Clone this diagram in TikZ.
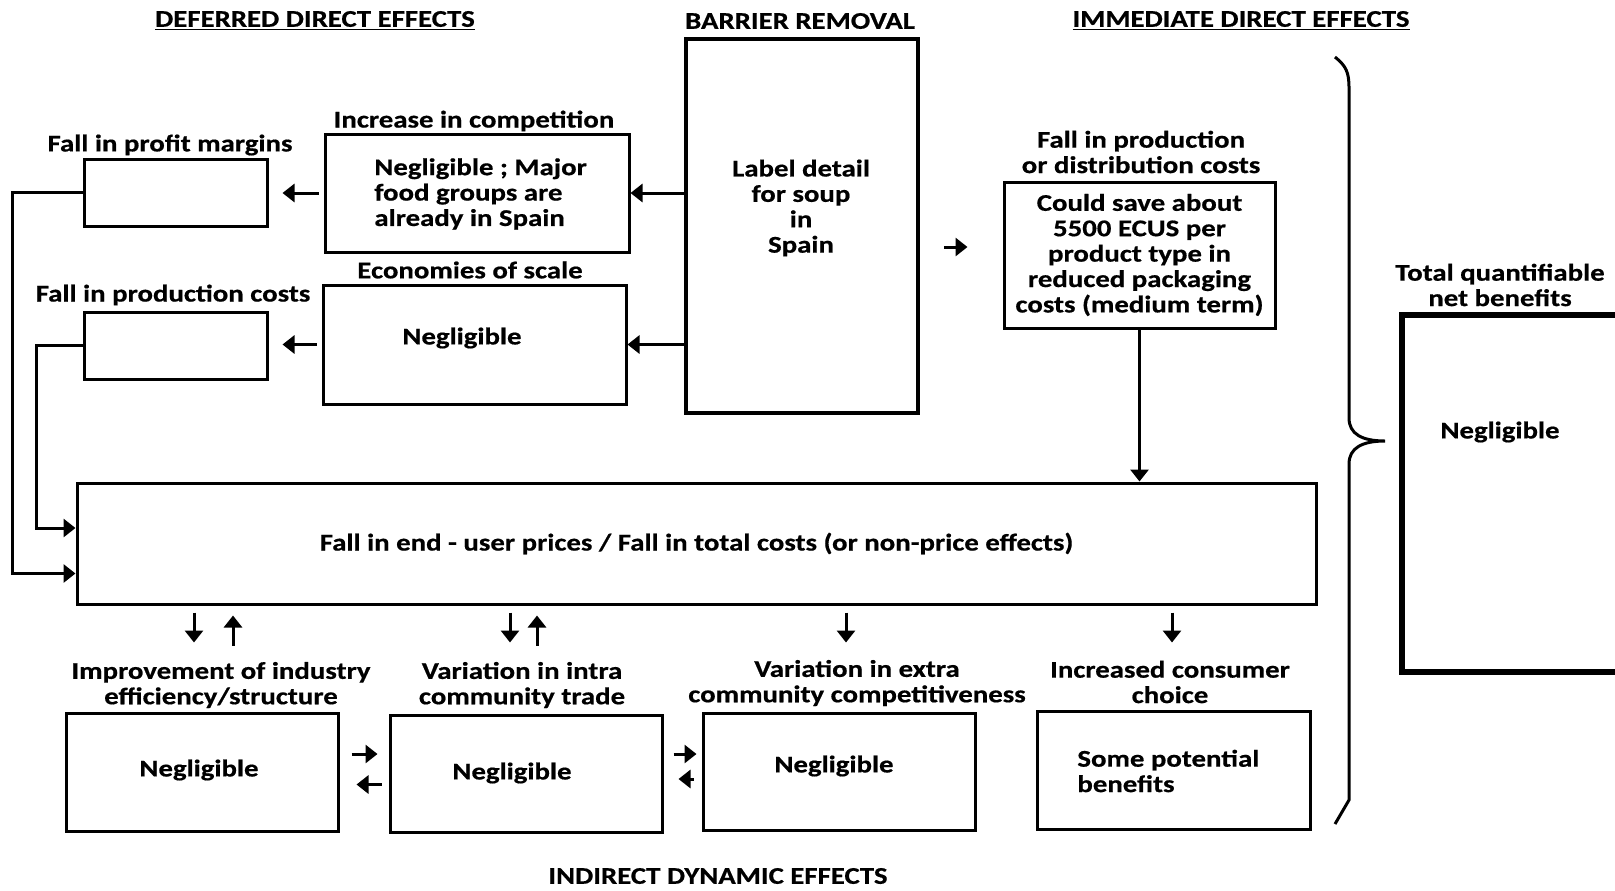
\documentclass[tikz,border=0pt]{standalone}
\usepackage{fontspec}
\setmainfont{Carlito}[FakeStretch=1.2, BoldFeatures={FakeBold=0.6}]
\usetikzlibrary{arrows.meta,positioning}

\tikzset{
	box/.style={draw, line width=1.5pt, inner sep=0pt, align=center},
	txt/.style={inner sep=0pt, align=center},
	conn/.style={line width=1.5pt, -{Triangle[length=6pt,width=9pt]}},
}

\begin{document}
\begin{tikzpicture}[x=0.5pt, y=-0.5pt, font=\fontsize{12}{12.7}\selectfont\bfseries]
	\clip (0,0) rectangle (1615,890);
	% headings
	\node[txt] (hdefer) at (315,21) {\underline{DEFERRED DIRECT EFFECTS}};
	\node[txt] (hbarrier) at (800,21) {BARRIER REMOVAL};
	\node[txt] (himmed) at (1241,21) {\underline{IMMEDIATE DIRECT EFFECTS}};
	\node[txt] (hindirect) at (718,876) {INDIRECT DYNAMIC EFFECTS};

	% barrier and direct effects
	\node[box, line width=2.2pt, minimum width=116pt, minimum height=187pt] (barrier) at (802,226) {};
	\node[txt] (barriertxt) at (801,208) {Label detail\\for soup\\in\\Spain};
	\node[box, minimum width=152pt, minimum height=59pt] (compet) at (477,193) {};
	\node[txt, anchor=west, align=left] (competxt) at (374,194) {Negligible ; Major\\food groups are\\already in Spain};
	\node[txt] (competlbl) at (474,121) {Increase in competition};
	\node[box, minimum width=151.5pt, minimum height=59.5pt] (econ) at (474.5,344.5) {};
	\node[txt] (econtxt) at (462,338) {Negligible};
	\node[txt] (econlbl) at (470,270) {Economies of scale};
	\node[box, minimum width=91.5pt, minimum height=33.5pt] (profit) at (175.5,192.5) {};
	\node[txt] (profitlbl) at (170,145) {Fall in profit margins};
	\node[box, minimum width=91.5pt, minimum height=33.5pt] (prodcost) at (175.5,345.5) {};
	\node[txt] (prodcostlbl) at (173,295) {Fall in production costs};
	\node[box, minimum width=135.5pt, minimum height=73pt] (savings) at (1139.5,255) {Could save about\\5500 ECUS per\\product type in\\reduced packaging\\costs (medium term)};
	\node[txt] (savingslbl) at (1141,152) {Fall in production\\or distribution costs};

	% end-user prices
	\node[box, minimum width=619.5pt, minimum height=60.5pt] (endprice) at (696.5,543.5) {Fall in end - user prices / Fall in total costs (or non-price effects)};

	% indirect dynamic effects
	\node[box, minimum width=136pt, minimum height=59pt] (effic) at (202,772) {};
	\node[txt] (effictxt) at (199,770) {Negligible};
	\node[txt] (efficlbl) at (221,685) {Improvement of industry\\efficiency/structure};
	\node[box, minimum width=136pt, minimum height=58.5pt] (intra) at (526,773.5) {};
	\node[txt] (intratxt) at (512,773) {Negligible};
	\node[txt] (intralbl) at (522,685) {Variation in intra\\community trade};
	\node[box, minimum width=136pt, minimum height=58.5pt] (extra) at (839,771.5) {};
	\node[txt] (extratxt) at (834,766) {Negligible};
	\node[txt] (extralbl) at (857,683) {Variation in extra\\community competitiveness};
	\node[box, minimum width=136.5pt, minimum height=59pt] (choice) at (1173.5,770) {};
	\node[txt, anchor=west, align=left] (choicetxt) at (1077,771) {Some potential\\benefits};
	\node[txt] (choicelbl) at (1170,682) {Increased consumer\\choice};

	% total
	\node[box, line width=3pt, minimum width=124pt, minimum height=178.5pt] (total) at (1526,493.5) {};
	\node[txt] (totaltxt) at (1500,432) {Negligible};
	\node[txt] (totallbl) at (1500,285) {Total quantifiable\\net benefits};
	\draw[line width=1.5pt] (1335,57) .. controls (1346,66) and (1349,72) .. (1349,88) -- (1349,418)
		.. controls (1349,434) and (1362,441) .. (1385,441)
		.. controls (1362,441) and (1349,448) .. (1349,464) -- (1349,800) -- (1335,824);

	% connectors
	\draw[conn] (barrier.west |- compet.east) -- (compet.east);
	\draw[conn] (barrier.west |- econ.east) -- (econ.east);
	\draw[conn, shorten <=2.5pt, shorten >=7pt] (compet.west) -- (profit.east |- compet.west);
	\draw[conn, shorten <=2.5pt, shorten >=7pt] (econ.west) -- (prodcost.east |- econ.west);
	\draw[conn, shorten <=12pt, shorten >=17.5pt] ([yshift=4pt]barrier.east |- savings.west) -- ([yshift=4pt]savings.west);
	\draw[conn] (savings.south) -- (savings.south |- endprice.north);
	\draw[conn] (profit.west) -- ++(-70,0) |- ([yshift=-15pt]endprice.west);
	\draw[conn] (prodcost.west) -- ++(-46,0) |- ([yshift=7.75pt]endprice.west);
	\foreach \x in {194,510,846,1172}
		\draw[conn] ([yshift=-3.5pt]endprice.south -| \x,0) -- ++(0,30);
	\foreach \x in {233,537}
		\draw[conn] ([yshift=-20pt]endprice.south -| \x,0) -- ++(0,-30);
	\draw[conn, shorten <=6pt, shorten >=5.5pt] ([yshift=9pt]effic.east) -- ([yshift=9pt]effic.east -| intra.west);
	\draw[conn, shorten <=3.5pt, shorten >=8.5pt] ([yshift=-5.5pt]intra.west) -- ([yshift=-5.5pt]intra.west -| effic.east);
	\draw[conn, shorten <=5pt, shorten >=2.5pt] ([yshift=9.75pt]intra.east) -- ([yshift=9.75pt]intra.east -| extra.west);
	\draw[conn, shorten <=4pt, shorten >=7.5pt] ([yshift=-3.75pt]extra.west) -- ([yshift=-3.75pt]extra.west -| intra.east);
\end{tikzpicture}
\end{document}
